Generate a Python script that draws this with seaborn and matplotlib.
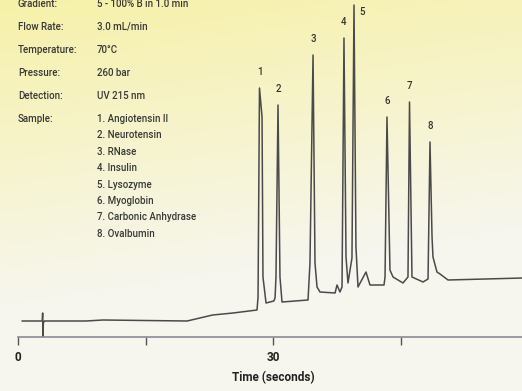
import numpy as np
import pandas as pd
import matplotlib
matplotlib.use("Agg")
import matplotlib.pyplot as plt
import seaborn as sns

# chromatogram trace (time in s, detector signal in arbitrary units)
time_s = [0.47, 2.85, 2.90, 2.94, 2.98, 3.10, 8.0, 10.0, 19.9, 22.9, 25.3, 28.12,
          28.24, 28.41, 28.71, 28.82, 29.18, 30.10, 30.24, 30.35, 30.59, 30.82, 31.06,
          34.12, 34.35, 34.71, 34.94, 35.18, 35.53, 37.30, 37.53, 37.88, 38.12, 38.35,
          38.59, 38.82, 39.29, 39.53, 39.76, 40.00, 40.94, 41.41, 43.06, 43.18, 43.41,
          43.76, 44.12, 45.29, 45.88, 46.06, 46.35, 47.65, 48.24, 48.47, 48.71, 48.82,
          49.29, 49.65, 50.59, 59.4]
signal = [16, 16, 24, 0, 14, 16, 16, 17, 16, 22, 24, 27,
          40, 249, 220, 60, 34, 36, 39, 60, 232, 60, 35,
          37, 74, 282, 74, 50, 45, 44, 52, 45, 50, 299,
          80, 54, 79, 332, 90, 50, 65, 52, 52, 60, 220,
          67, 60, 54, 60, 235, 60, 55, 58, 195, 100, 80,
          65, 63, 57, 59]

peak_ids = ["1", "2", "3", "4", "5", "6", "7", "8"]
peak_times = [28.41, 30.59, 34.71, 38.35, 39.53, 43.41, 46.06, 48.47]
peak_heights = [249, 232, 282, 299, 332, 220, 235, 195]

conditions = ["Gradient:", "Flow Rate:", "Temperature:", "Pressure:", "Detection:", "Sample:"]
condition_values = ["5 - 100% B in 1.0 min", "3.0 mL/min", "70°C", "260 bar", "UV 215 nm"]
samples = ["1. Angiotensin II", "2. Neurotensin", "3. RNase", "4. Insulin",
           "5. Lysozyme", "6. Myoglobin", "7. Carbonic Anhydrase", "8. Ovalbumin"]

df = pd.DataFrame({"time": time_s, "signal": signal})

sns.set_style("white")
plt.rcParams["font.family"] = ["Roboto", "DejaVu Sans"]

fig = plt.figure(figsize=(5.22, 3.91), dpi=100)

# pale yellow wash behind everything
bg = fig.add_axes([0, 0, 1, 1], zorder=-1)
yy, xx = np.mgrid[0:1:200j, 0:1:200j]
w = np.clip(1.0 - yy * 1.25 - xx * 0.25, 0, 1)[..., None]
top = np.array([0.965, 0.945, 0.66])
bot = np.array([0.965, 0.965, 0.94])
bg.imshow(bot + (top - bot) * w, aspect="auto", extent=[0, 1, 0, 1], origin="upper")
bg.axis("off")

ax = fig.add_axes([18 / 522, 54 / 391, 510 / 522, 337 / 391])
ax.patch.set_alpha(0)
sns.lineplot(data=df, x="time", y="signal", ax=ax, color="#4a4a4a", linewidth=1.1,
             estimator=None, sort=False)
ax.set_xlim(0, 60)
ax.set_ylim(0, 337)

for pid, t, h in zip(peak_ids, peak_times, peak_heights):
    dx, dy = (8, -7) if pid == "5" else (0, 16)
    ax.annotate(pid, (t, h), xytext=(dx, dy), textcoords="offset pixels",
                ha="center", va="center", fontsize=7, fontweight="medium",
                color="#333333")

for side in ["top", "right", "left"]:
    ax.spines[side].set_visible(False)
ax.spines["bottom"].set_color("#8c8a98")
ax.spines["bottom"].set_linewidth(1.2)
ax.set_yticks([])
ax.set_xticks([0, 30, 60])
ax.set_xticks([15, 45], minor=True)
ax.tick_params(axis="x", which="both", direction="out", length=6, width=1,
               color="#555555", bottom=True, labelsize=8.5, pad=4)
for lab in ax.get_xticklabels():
    lab.set_fontweight("bold")
    lab.set_color("#222222")
ax.set_xlabel("Time (seconds)", fontsize=8.5, fontweight="bold", color="#222222", labelpad=5)
ax.set_ylabel("")

# run conditions block
txt = dict(fontsize=7, fontweight="medium", color="#383838", va="center", ha="left")
for i, name in enumerate(conditions):
    ypix = 4 + i * 23
    fig.text(18 / 522, 1 - ypix / 391, name, **txt)
    if i < len(condition_values):
        fig.text(97 / 522, 1 - ypix / 391, condition_values[i], **txt)
for j, s in enumerate(samples):
    ypix = 119 + j * 16.4
    fig.text(97 / 522, 1 - ypix / 391, s, **txt)

fig.savefig("out.png", dpi=100)
